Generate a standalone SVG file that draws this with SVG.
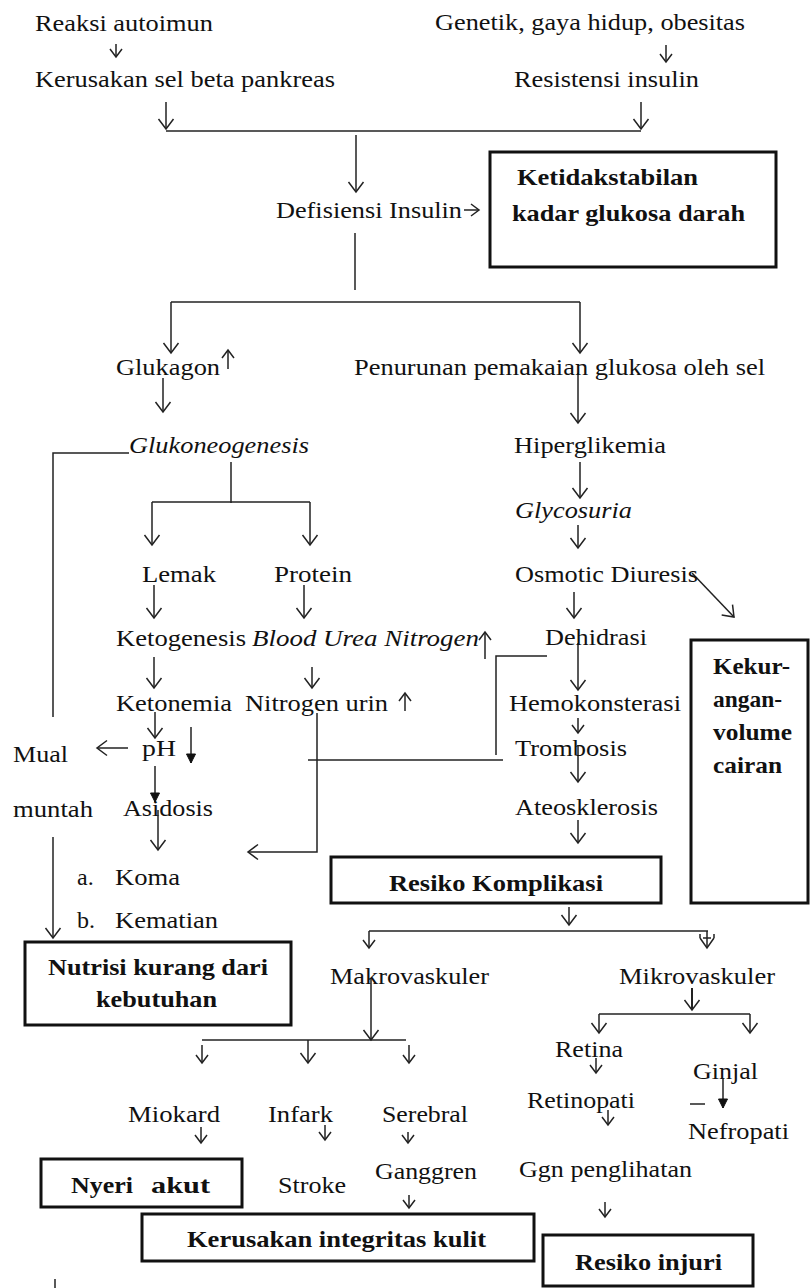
<svg xmlns="http://www.w3.org/2000/svg" width="811" height="1288" viewBox="0 0 811 1288">
<style>
text{font-family:"Liberation Serif","Times New Roman",serif;font-size:24px;fill:#111}
.b{font-weight:bold}
.i{font-style:italic}
.box{fill:none;stroke:#111;stroke-width:3}
.c line,.c polyline,.c path{fill:none;stroke:#222;stroke-width:1.5}
.c .ar{marker-end:url(#a)}
.c .sm{marker-end:url(#s)}
.c .fi{marker-end:url(#f)}
.c .tr{marker-end:url(#t)}
</style>
<defs>
<marker id="a" markerUnits="userSpaceOnUse" orient="auto" overflow="visible" refX="0" refY="0" markerWidth="1" markerHeight="1"><path d="M-10,-7.5 L0,0 L-10,7.5" fill="none" stroke="#222" stroke-width="1.5"/></marker>
<marker id="s" markerUnits="userSpaceOnUse" orient="auto" overflow="visible" refX="0" refY="0" markerWidth="1" markerHeight="1"><path d="M-8,-6 L0,0 L-8,6" fill="none" stroke="#222" stroke-width="1.5"/></marker>
<marker id="f" markerUnits="userSpaceOnUse" orient="auto" overflow="visible" refX="0" refY="0" markerWidth="1" markerHeight="1"><path d="M-9,-4.5 L0,0 L-9,4.5 Z" fill="#111" stroke="#111" stroke-width="1"/></marker>
<marker id="t" markerUnits="userSpaceOnUse" orient="auto" overflow="visible" refX="0" refY="0" markerWidth="1" markerHeight="1"><path d="M-10,-7 L0,0 L-10,7 M-10,-4 L-10,4 M-14,-7 L-10,-7 M-14,7 L-10,7" fill="none" stroke="#222" stroke-width="1.5"/></marker>
</defs>

<g id="connectors" class="c">
<line class="sm" x1="116" y1="44" x2="116" y2="57"/>
<line class="sm" x1="666" y1="45" x2="666" y2="62"/>
<line class="ar" x1="166" y1="102" x2="166" y2="129"/>
<line class="ar" x1="641" y1="102" x2="641" y2="129"/>
<line x1="166" y1="131" x2="641" y2="131"/>
<line class="ar" x1="356" y1="135" x2="356" y2="192"/>
<line class="sm" x1="464" y1="210" x2="479" y2="210"/>
<line x1="355" y1="233" x2="355" y2="290"/>
<line x1="171" y1="302" x2="580" y2="302"/>
<line class="ar" x1="171" y1="302" x2="171" y2="353"/>
<line class="ar" x1="580" y1="302" x2="580" y2="353"/>
<line class="sm" x1="228" y1="369" x2="228" y2="350"/>
<line class="ar" x1="163" y1="378" x2="163" y2="412"/>
<line class="ar" x1="578" y1="373" x2="578" y2="423"/>
<polyline points="129,453 53,453 53,717"/>
<line x1="231" y1="462" x2="231" y2="503"/>
<line x1="152" y1="502" x2="310" y2="502"/>
<line class="ar" x1="152" y1="502" x2="152" y2="545"/>
<line class="ar" x1="310" y1="502" x2="310" y2="545"/>
<line class="ar" x1="580" y1="462" x2="580" y2="498"/>
<line class="ar" x1="578" y1="525" x2="578" y2="548"/>
<line class="ar" x1="154" y1="585" x2="154" y2="618"/>
<line class="ar" x1="304" y1="585" x2="304" y2="618"/>
<line class="ar" x1="574" y1="592" x2="574" y2="618"/>
<line class="ar" x1="692" y1="573" x2="734" y2="617"/>
<line class="sm" x1="485" y1="659" x2="485" y2="632"/>
<polyline points="547,656 496,656 496,755"/>
<line x1="308" y1="760" x2="503" y2="760"/>
<line class="ar" x1="578" y1="643" x2="578" y2="690"/>
<line class="ar" x1="154" y1="657" x2="154" y2="688"/>
<line class="ar" x1="312" y1="667" x2="312" y2="688"/>
<line class="sm" x1="405" y1="711" x2="405" y2="693"/>
<line class="ar" x1="155" y1="712" x2="155" y2="738"/>
<line class="fi" x1="191" y1="727" x2="191" y2="763"/>
<line class="ar" x1="128" y1="748" x2="97" y2="748"/>
<polyline class="ar" points="317,713 317,852 248,852"/>
<line class="sm" x1="578" y1="718" x2="578" y2="733"/>
<line class="ar" x1="578" y1="745" x2="578" y2="782"/>
<line class="ar" x1="578" y1="820" x2="578" y2="843"/>
<line class="fi" x1="155" y1="766" x2="155" y2="802"/>
<line class="ar" x1="158" y1="810" x2="158" y2="850"/>
<line class="ar" x1="53" y1="837" x2="53" y2="938"/>
<line class="ar" x1="569" y1="907" x2="569" y2="925"/>
<line x1="369" y1="931" x2="708" y2="931"/>
<line class="sm" x1="369" y1="931" x2="369" y2="948"/>
<line class="tr" x1="707" y1="931" x2="707" y2="948"/>
<line class="ar" x1="371" y1="978" x2="371" y2="1040"/>
<line x1="202" y1="1040" x2="406" y2="1040"/>
<line class="sm" x1="202" y1="1045" x2="202" y2="1063"/>
<line class="ar" x1="308" y1="1040" x2="308" y2="1063"/>
<line class="sm" x1="409" y1="1045" x2="409" y2="1063"/>
<line class="ar" x1="692" y1="988" x2="692" y2="1010" style="stroke-width:2"/>
<line x1="599" y1="1014" x2="750" y2="1014"/>
<line class="ar" x1="599" y1="1014" x2="599" y2="1033"/>
<line class="ar" x1="750" y1="1014" x2="750" y2="1033"/>
<line class="sm" x1="596" y1="1058" x2="596" y2="1073"/>
<line class="sm" x1="608" y1="1110" x2="608" y2="1125"/>
<line class="fi" x1="723" y1="1078" x2="723" y2="1108"/>
<line x1="690" y1="1104" x2="705" y2="1104"/>
<line class="sm" x1="201" y1="1127" x2="201" y2="1143"/>
<line class="sm" x1="325" y1="1125" x2="325" y2="1140"/>
<line class="sm" x1="408" y1="1132" x2="408" y2="1143"/>
<line class="sm" x1="409" y1="1195" x2="409" y2="1208"/>
<line class="sm" x1="605" y1="1202" x2="605" y2="1217"/>
<line x1="55" y1="1279" x2="55" y2="1288"/>
</g>

<g id="n-reaksi"><text x="35" y="31" textLength="178" lengthAdjust="spacingAndGlyphs">Reaksi autoimun</text></g>
<g id="n-kerusakan"><text x="35" y="87" textLength="300" lengthAdjust="spacingAndGlyphs">Kerusakan sel beta pankreas</text></g>
<g id="n-genetik"><text x="435" y="30" textLength="310" lengthAdjust="spacingAndGlyphs">Genetik, gaya hidup, obesitas</text></g>
<g id="n-resistensi"><text x="514" y="87" textLength="185" lengthAdjust="spacingAndGlyphs">Resistensi insulin</text></g>
<g id="n-defisiensi"><text x="276" y="218" textLength="186" lengthAdjust="spacingAndGlyphs">Defisiensi Insulin</text></g>
<g id="n-ketidakstabilan">
<rect class="box" x="490" y="152" width="286" height="115"/>
<text class="b" x="517" y="185" textLength="181" lengthAdjust="spacingAndGlyphs">Ketidakstabilan</text>
<text class="b" x="512" y="221" textLength="233" lengthAdjust="spacingAndGlyphs">kadar glukosa darah</text>
</g>
<g id="n-glukagon"><text x="116" y="375" textLength="104" lengthAdjust="spacingAndGlyphs">Glukagon</text></g>
<g id="n-penurunan"><text x="354" y="375" textLength="411" lengthAdjust="spacingAndGlyphs">Penurunan pemakaian glukosa oleh sel</text></g>
<g id="n-glukoneogenesis"><text class="i" x="129" y="453" textLength="180" lengthAdjust="spacingAndGlyphs">Glukoneogenesis</text></g>
<g id="n-hiperglikemia"><text x="514" y="453" textLength="152" lengthAdjust="spacingAndGlyphs">Hiperglikemia</text></g>
<g id="n-glycosuria"><text class="i" x="515" y="518" textLength="117" lengthAdjust="spacingAndGlyphs">Glycosuria</text></g>
<g id="n-lemak"><text x="142" y="582" textLength="74" lengthAdjust="spacingAndGlyphs">Lemak</text></g>
<g id="n-protein"><text x="274" y="582" textLength="78" lengthAdjust="spacingAndGlyphs">Protein</text></g>
<g id="n-osmotic"><text x="515" y="582" textLength="183" lengthAdjust="spacingAndGlyphs">Osmotic Diuresis</text></g>
<g id="n-ketogenesis"><text x="116" y="646" textLength="130" lengthAdjust="spacingAndGlyphs">Ketogenesis</text></g>
<g id="n-bun"><text class="i" x="252" y="646" textLength="227" lengthAdjust="spacingAndGlyphs">Blood Urea Nitrogen</text></g>
<g id="n-dehidrasi"><text x="545" y="645" textLength="102" lengthAdjust="spacingAndGlyphs">Dehidrasi</text></g>
<g id="n-ketonemia"><text x="116" y="711" textLength="116" lengthAdjust="spacingAndGlyphs">Ketonemia</text></g>
<g id="n-nitrogen"><text x="245" y="711" textLength="143" lengthAdjust="spacingAndGlyphs">Nitrogen urin</text></g>
<g id="n-hemo"><text x="509" y="711" textLength="172" lengthAdjust="spacingAndGlyphs">Hemokonsterasi</text></g>
<g id="n-mual">
<text x="13" y="762" textLength="55" lengthAdjust="spacingAndGlyphs">Mual</text>
<text x="13" y="817" textLength="80" lengthAdjust="spacingAndGlyphs">muntah</text>
</g>
<g id="n-ph"><text x="142" y="756" textLength="34" lengthAdjust="spacingAndGlyphs">pH</text></g>
<g id="n-trombosis"><text x="515" y="756" textLength="112" lengthAdjust="spacingAndGlyphs">Trombosis</text></g>
<g id="n-asidosis"><text x="123" y="816" textLength="90" lengthAdjust="spacingAndGlyphs">Asidosis</text></g>
<g id="n-ateosklerosis"><text x="515" y="815" textLength="143" lengthAdjust="spacingAndGlyphs">Ateosklerosis</text></g>
<g id="n-kekurangan">
<rect class="box" x="691" y="640" width="117" height="263"/>
<text class="b" x="713" y="674" textLength="77" lengthAdjust="spacingAndGlyphs">Kekur-</text>
<text class="b" x="713" y="707" textLength="69" lengthAdjust="spacingAndGlyphs">angan-</text>
<text class="b" x="713" y="740" textLength="79" lengthAdjust="spacingAndGlyphs">volume</text>
<text class="b" x="713" y="773" textLength="69" lengthAdjust="spacingAndGlyphs">cairan</text>
</g>
<g id="n-koma">
<text x="77" y="885">a.</text>
<text x="115" y="885" textLength="65" lengthAdjust="spacingAndGlyphs">Koma</text>
<text x="77" y="928">b.</text>
<text x="115" y="928" textLength="103" lengthAdjust="spacingAndGlyphs">Kematian</text>
</g>
<g id="n-komplikasi">
<rect class="box" x="331" y="857" width="330" height="46"/>
<text class="b" x="389" y="891" textLength="214" lengthAdjust="spacingAndGlyphs">Resiko Komplikasi</text>
</g>
<g id="n-nutrisi">
<rect class="box" x="25" y="942" width="266" height="83"/>
<text class="b" x="48" y="975" textLength="220" lengthAdjust="spacingAndGlyphs">Nutrisi kurang dari</text>
<text class="b" x="96" y="1007" textLength="121" lengthAdjust="spacingAndGlyphs">kebutuhan</text>
</g>
<g id="n-makro"><text x="330" y="984" textLength="159" lengthAdjust="spacingAndGlyphs">Makrovaskuler</text></g>
<g id="n-mikro"><text x="619" y="984" textLength="156" lengthAdjust="spacingAndGlyphs">Mikrovaskuler</text></g>
<g id="n-retina"><text x="555" y="1057" textLength="68" lengthAdjust="spacingAndGlyphs">Retina</text></g>
<g id="n-ginjal"><text x="693" y="1079" textLength="65" lengthAdjust="spacingAndGlyphs">Ginjal</text></g>
<g id="n-retinopati"><text x="527" y="1108" textLength="108" lengthAdjust="spacingAndGlyphs">Retinopati</text></g>
<g id="n-nefropati"><text x="688" y="1139" textLength="101" lengthAdjust="spacingAndGlyphs">Nefropati</text></g>
<g id="n-miokard"><text x="128" y="1122" textLength="92" lengthAdjust="spacingAndGlyphs">Miokard</text></g>
<g id="n-infark"><text x="268" y="1122" textLength="65" lengthAdjust="spacingAndGlyphs">Infark</text></g>
<g id="n-serebral"><text x="382" y="1122" textLength="86" lengthAdjust="spacingAndGlyphs">Serebral</text></g>
<g id="n-nyeri">
<rect class="box" x="41" y="1159" width="201" height="48"/>
<text class="b" x="71" y="1193" textLength="62" lengthAdjust="spacingAndGlyphs">Nyeri</text>
<text class="b" x="151" y="1193" textLength="59" lengthAdjust="spacingAndGlyphs">akut</text>
</g>
<g id="n-stroke"><text x="278" y="1193" textLength="68" lengthAdjust="spacingAndGlyphs">Stroke</text></g>
<g id="n-ganggren"><text x="375" y="1179" textLength="102" lengthAdjust="spacingAndGlyphs">Ganggren</text></g>
<g id="n-ggn"><text x="519" y="1177" textLength="173" lengthAdjust="spacingAndGlyphs">Ggn penglihatan</text></g>
<g id="n-integritas">
<rect class="box" x="142" y="1214" width="392" height="47"/>
<text class="b" x="187" y="1247" textLength="299" lengthAdjust="spacingAndGlyphs">Kerusakan integritas kulit</text>
</g>
<g id="n-injuri">
<rect class="box" x="543" y="1235" width="210" height="51"/>
<text class="b" x="575" y="1270" textLength="147" lengthAdjust="spacingAndGlyphs">Resiko injuri</text>
</g>
</svg>
